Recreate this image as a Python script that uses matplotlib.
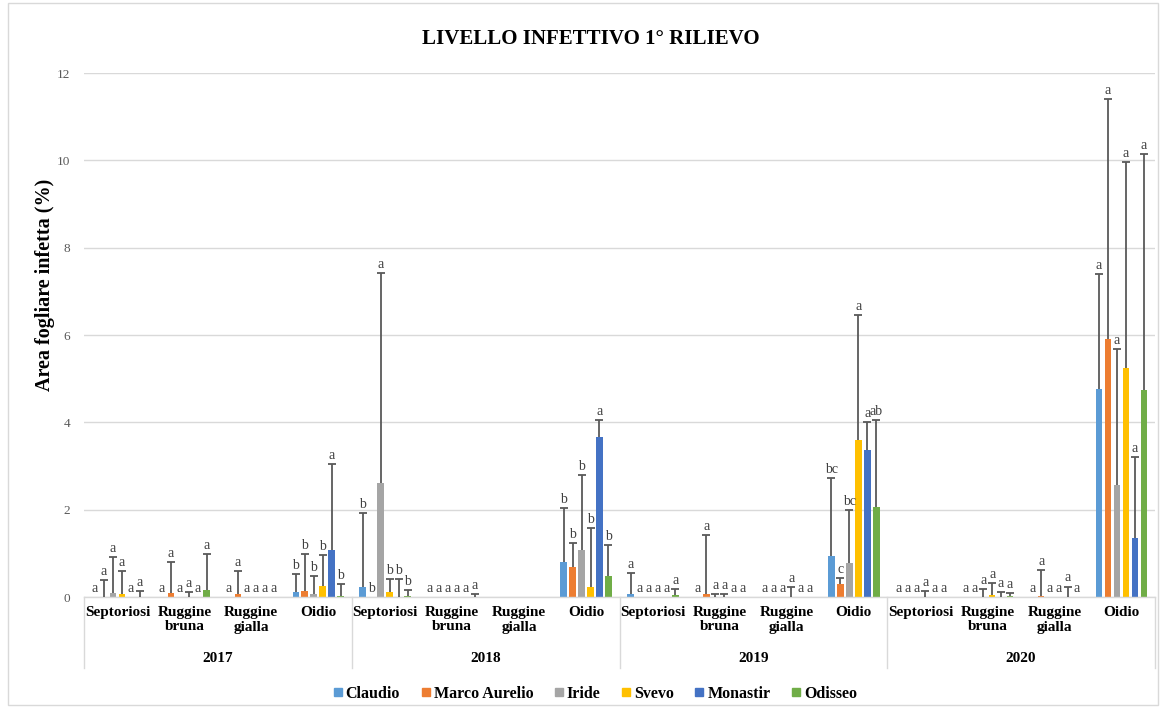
import numpy as np
import matplotlib
matplotlib.use("Agg")
import matplotlib.pyplot as plt
from matplotlib.lines import Line2D
from matplotlib.patches import Rectangle

plt.rcParams['font.family'] = ['Liberation Serif', 'DejaVu Serif']

years = ["2017", "2018", "2019", "2020"]
diseases = ["Septoriosi", "Ruggine\nbruna", "Ruggine\ngialla", "Oidio"]
cultivars = ["Claudio", "Marco Aurelio", "Iride", "Svevo", "Monastir", "Odisseo"]
colors = ["#5B9BD5", "#ED7D31", "#A5A5A5", "#FFC000", "#4472C4", "#70AD47"]

# mean infected leaf area (%) per cultivar, 16 year/disease categories
claudio_mean = [0, 0, 0, 0.11, 0.22, 0, 0, 0.81, 0.07, 0, 0, 0.93, 0, 0, 0, 4.77]
marco_mean = [0, 0.09, 0.07, 0.14, 0, 0, 0, 0.68, 0, 0.08, 0, 0.29, 0, 0, 0.02, 5.90]
iride_mean = [0.10, 0, 0, 0.08, 2.60, 0, 0, 1.07, 0, 0, 0, 0.78, 0, 0, 0, 2.56]
svevo_mean = [0.07, 0, 0, 0.25, 0.12, 0, 0, 0.23, 0, 0, 0, 3.59, 0, 0.04, 0, 5.25]
monastir_mean = [0, 0, 0, 1.07, 0, 0, 0, 3.66, 0, 0, 0, 3.36, 0, 0, 0, 1.36]
odisseo_mean = [0, 0.15, 0, 0.02, 0.03, 0, 0, 0.47, 0.05, 0, 0, 2.05, 0, 0.03, 0, 4.73]

# upper error (standard deviation)
claudio_err = [0, 0, 0, 0.41, 1.70, 0, 0, 1.23, 0.48, 0, 0, 1.79, 0, 0, 0, 2.62]
marco_err = [0.39, 0.72, 0.53, 0.84, 0, 0, 0, 0.56, 0, 1.34, 0, 0.15, 0, 0, 0.60, 5.50]
iride_err = [0.82, 0, 0, 0.40, 4.81, 0, 0, 1.72, 0, 0.06, 0, 1.21, 0, 0.18, 0, 3.12]
svevo_err = [0.53, 0.11, 0, 0.72, 0.29, 0, 0, 1.35, 0, 0.06, 0.23, 2.86, 0.13, 0.28, 0, 4.71]
monastir_err = [0, 0, 0, 1.97, 0.41, 0, 0, 0.39, 0, 0, 0, 0.65, 0, 0.12, 0.24, 1.85]
odisseo_err = [0.14, 0.83, 0, 0.27, 0.13, 0.06, 0, 0.71, 0.14, 0, 0, 2.00, 0, 0.07, 0, 5.42]

# significance letters
claudio_let = ['a', 'a', 'a', 'b', 'b', 'a', '', 'b', 'a', 'a', 'a', 'bc', 'a', 'a', 'a', 'a']
marco_let = ['a', 'a', 'a', 'b', 'b', 'a', '', 'b', 'a', 'a', 'a', 'c', 'a', 'a', 'a', 'a']
iride_let = ['a', 'a', 'a', 'b', 'a', 'a', '', 'b', 'a', 'a', 'a', 'bc', 'a', 'a', 'a', 'a']
svevo_let = ['a', 'a', 'a', 'b', 'b', 'a', '', 'b', 'a', 'a', 'a', 'a', 'a', 'a', 'a', 'a']
monastir_let = ['a', 'a', 'a', 'a', 'b', 'a', '', 'a', 'a', 'a', 'a', 'a', 'a', 'a', 'a', 'a']
odisseo_let = ['a', 'a', 'a', 'b', 'b', 'a', '', 'b', 'a', 'a', 'a', 'ab', 'a', 'a', 'a', 'a']

means = [claudio_mean, marco_mean, iride_mean, svevo_mean, monastir_mean, odisseo_mean]
errs = [claudio_err, marco_err, iride_err, svevo_err, monastir_err, odisseo_err]
letters = [claudio_let, marco_let, iride_let, svevo_let, monastir_let, odisseo_let]

W, H = 1162, 709
fig = plt.figure(figsize=(W / 100, H / 100), dpi=100)
ax = fig.add_axes([84 / W, 1 - 597 / H, (1155 - 84) / W, (597 - 73) / H])

n_cat = len(years) * len(diseases)
centers = np.arange(n_cat) + 0.5
slot = 0.134
bw = 0.10
grey_txt = "#404040"
err_col = "#595959"

for j, name in enumerate(cultivars):
    m = np.array(means[j], dtype=float)
    e = np.array(errs[j], dtype=float)
    xs = centers + (j - 2.5) * slot
    ax.bar(xs, m, width=bw, color=colors[j], zorder=2, label=name)
    mask = e > 0
    # plus-only error bars: stem from the bar top plus a single upper cap
    ax.vlines(xs[mask], m[mask], m[mask] + e[mask], color=err_col,
              linewidth=1.3, zorder=3)
    ax.plot(xs[mask], m[mask] + e[mask], linestyle='none', marker='_',
            markersize=6, markeredgewidth=1.3, color=err_col, zorder=3)
    for x, v, d, t in zip(xs, m, e, letters[j]):
        if t:
            ax.annotate(t, (x, v + d), xytext=(0, 1.5), textcoords='offset points',
                        ha='center', va='bottom', fontsize=10, color=grey_txt)

ax.set_xlim(0, n_cat)
ax.set_ylim(0, 12)
ax.set_yticks(np.arange(0, 13, 2))
ax.set_yticklabels([str(v) for v in range(0, 13, 2)], fontsize=9.5, color="#595959")
ax.tick_params(axis='y', length=0, pad=10)
ax.tick_params(axis='x', length=0, labelbottom=False)
ax.grid(axis='y', color='#d9d9d9', linewidth=1, zorder=0)
ax.set_axisbelow(True)
for s in ['top', 'right', 'left']:
    ax.spines[s].set_visible(False)
ax.spines['bottom'].set_color('#d9d9d9')
ax.spines['bottom'].set_linewidth(1)

# multi-level category axis
px_per_pt = 100 / 72
tr = ax.get_xaxis_transform()
for i, c in enumerate(centers):
    ax.annotate(diseases[i % len(diseases)], (c, 0), xycoords=tr,
                xytext=(0, -9 / px_per_pt), textcoords='offset points',
                ha='center', va='top', fontsize=11, fontweight='bold',
                linespacing=1.15, color='black')
for k, y in enumerate(years):
    xc = k * len(diseases) + len(diseases) / 2
    ax.annotate(y, (xc, 0), xycoords=tr, xytext=(0, -62 / px_per_pt),
                textcoords='offset points', ha='center', va='center',
                fontsize=11, fontweight='bold', color='black')
sep_bottom = -(668 - 597) / (597 - 73)
for k in range(len(years) + 1):
    xb = k * len(diseases)
    ax.add_line(Line2D([xb, xb], [0, sep_bottom], transform=tr, color='#d9d9d9',
                       linewidth=1, clip_on=False))

fig.text(591 / W, 1 - 39 / H, "LIVELLO INFETTIVO 1° RILIEVO", ha='center', va='center',
         fontsize=15, fontweight='bold')
fig.text(45 / W, 1 - 285 / H, "Area fogliare infetta (%)", ha='center', va='center',
         rotation=90, fontsize=14.5, fontweight='bold')

handles = [Line2D([], [], marker='s', linestyle='none', markersize=5.5,
                  markerfacecolor=c, markeredgecolor=c) for c in colors]
fig.legend(handles, cultivars, loc='center', bbox_to_anchor=(595 / W, 1 - 694 / H),
           ncol=6, frameon=False, handlelength=0.6, handletextpad=0.2,
           columnspacing=1.3, prop={'weight': 'bold', 'size': 11.5})

fig.patches.append(Rectangle((8 / W, 1 - 705 / H), (1158 - 8) / W, (705 - 3) / H,
                             transform=fig.transFigure, fill=False,
                             edgecolor='#d9d9d9', linewidth=1))

fig.savefig("out.png", dpi=100)
